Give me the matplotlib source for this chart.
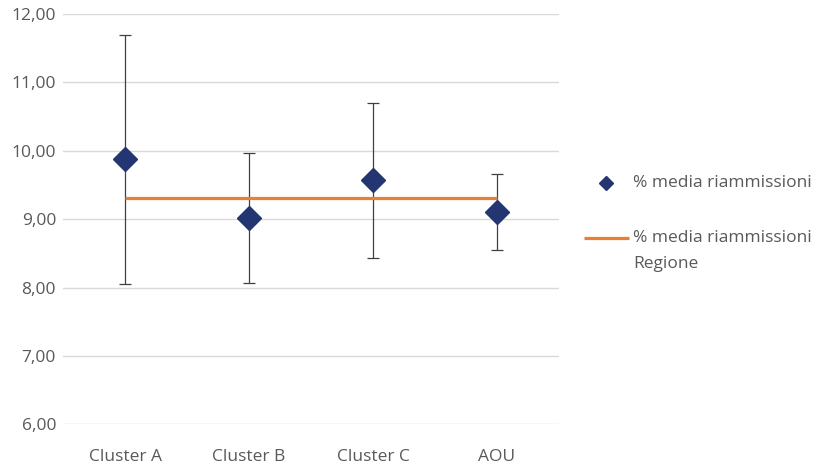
import matplotlib
matplotlib.use("Agg")
import matplotlib.pyplot as plt
from matplotlib.lines import Line2D

categories = ["Cluster A", "Cluster B", "Cluster C", "AOU"]
media = [9.88, 9.01, 9.57, 9.11]
upper = [11.70, 9.97, 10.70, 9.66]
lower = [8.05, 8.07, 8.43, 8.55]
media_regione = 9.31
y_ticks = [6, 7, 8, 9, 10, 11, 12]

plt.rcParams['font.family'] = ['Open Sans', 'DejaVu Sans']

W, H = 830, 465
fig = plt.figure(figsize=(W / 100, H / 100), dpi=100)
ax = fig.add_axes([63 / W, 1 - 424.3 / H, (559 - 63) / W, (424.3 - 14) / H])

x = list(range(len(categories)))
err_lo = [m - l for m, l in zip(media, lower)]
err_hi = [u - m for m, u in zip(media, upper)]

ax.errorbar(x, media, yerr=[err_lo, err_hi], fmt='none', ecolor='#404040',
            elinewidth=0.9, capsize=4.5, capthick=0.9, zorder=3)
ax.plot([x[0], x[-1]], [media_regione, media_regione], color='#ED7D31',
        lw=2.3, zorder=4, solid_capstyle='butt')
ax.plot(x, media, linestyle='none', marker='D', ms=12.5, color='#243672',
        markeredgecolor='#243672', zorder=5)

ax.set_xlim(-0.5, 3.5)
ax.set_ylim(6, 12)
ax.set_yticks(y_ticks)
ax.set_yticklabels([f"{v:.2f}".replace('.', ',') for v in y_ticks])
ax.set_xticks(x)
ax.set_xticklabels(categories)
ax.grid(axis='y', color='#d9d9d9', lw=1)
ax.set_axisbelow(True)
for s in ax.spines.values():
    s.set_visible(False)
ax.tick_params(length=0, labelsize=12.5, labelcolor='#595959')
ax.tick_params(axis='y', pad=5)
ax.tick_params(axis='x', pad=18)

# legend entries placed beside the plot area
txt_kw = dict(fontsize=12.5, color='#595959', va='center', ha='left')
fig.add_artist(Line2D([606 / W], [1 - 183 / H], linestyle='none', marker='D', ms=7.5,
                      color='#243672', transform=fig.transFigure))
fig.text(633 / W, 1 - 183 / H, "% media riammissioni", **txt_kw)
fig.add_artist(Line2D([584 / W, 629 / W], [1 - 238 / H, 1 - 238 / H], color='#ED7D31',
                      lw=2.3, solid_capstyle='butt', transform=fig.transFigure))
fig.text(633 / W, 1 - 238 / H, "% media riammissioni", **txt_kw)
fig.text(633 / W, 1 - 264 / H, "Regione", **txt_kw)

fig.savefig("out.png", dpi=100)
